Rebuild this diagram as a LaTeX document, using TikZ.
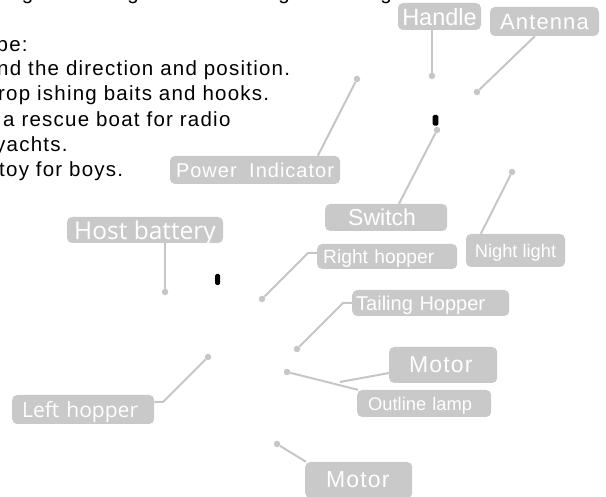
\documentclass[tikz,border=0pt]{standalone}
\usepackage{fontspec}
\setmainfont{Liberation Sans}
\newfontfamily\bodyf[LetterSpace=6]{Liberation Sans}
\newfontfamily\labf{Liberation Sans}
\newfontfamily\labsp[LetterSpace=5]{Liberation Sans}
\newfontfamily\labo{Open Sans}
\definecolor{boxgray}{RGB}{201,201,201}
\definecolor{linegray}{RGB}{198,198,198}
\tikzset{
  lbox/.style={fill=boxgray, rounded corners=5pt, text=white, inner ysep=0pt, text depth=0pt},
  cbox/.style={lbox, inner xsep=0pt, align=center},
  pbox/.style={lbox, anchor=west, align=left},
  conn/.style={draw=linegray, line width=2pt},
  dot/.style={circle, fill=linegray, inner sep=0pt, minimum size=6.5pt},
  body/.style={anchor=base west, inner sep=0pt, font=\bodyf\fontsize{20.5}{24}\selectfont},
  blackmark/.style={fill=black, rounded corners=1.5pt},
}
\begin{document}
\begin{tikzpicture}[x=1pt,y=-1pt]
\clip (0,0) rectangle (606,497);
% body text (cut at the edges)
\node[body, anchor=base] (g1) at (27.5,-0.7) {g};
\node[body, anchor=base] (g2) at (133,-0.7) {g};
\node[body, anchor=base] (g3) at (284,-0.7) {g};
\node[body, anchor=base] (g4) at (386,-0.7) {g};
\node[body] (t1) at (-3.5,51.5) {pe:};
\node[body] (t2) at (-3,76) {nd the direction and position.};
\node[body] (t3) at (-2,101) {rop ishing baits and hooks.};
\node[body] (t4) at (3,126.5) {a rescue boat for radio};
\node[body] (t5) at (-5,151.5) {yachts.};
\node[body] (t6) at (-1,176.5) {toy for boys.};
% dots and elbows
\node[dot] (hd) at (432,76) {};
\node[dot] (ad) at (477,92) {};
\node[dot] (pd) at (357,79) {};
\node[dot] (sd) at (437,130) {};
\node[dot] (nd) at (512,172) {};
\node[dot] (rd) at (262,299) {};
\node[dot] (td) at (297,349) {};
\node[dot] (od) at (287,372) {};
\node[dot] (md) at (277,444) {};
\node[dot] (hbd) at (165,292) {};
\node[dot] (ld) at (208,357) {};
\coordinate (re) at (308,253);
\coordinate (te) at (343,303);
\coordinate (me) at (340,382);
\coordinate (le) at (163,402);
% labels
\node[cbox, minimum width=83pt, minimum height=27pt, font=\labf\fontsize{23.5}{25}\selectfont] (handle) at (439.5,16.5) {Handle};
\node[cbox, minimum width=109pt, minimum height=29pt, font=\labsp\fontsize{22}{25}\selectfont] (antenna) at (544.5,21.5) {Antenna};
\node[cbox, minimum width=170pt, minimum height=28pt, font=\labsp\fontsize{20}{24}\selectfont] (power) at (255,170) {Power\hspace{6pt} Indicator};
\node[pbox, inner xsep=23pt, text width=76pt, minimum height=27pt, font=\labf\fontsize{23}{25}\selectfont] (switch) at (325,217.5) {Switch};
\node[cbox, minimum width=99pt, minimum height=33pt, font=\labf\fontsize{18.3}{22}\selectfont] (night) at (515.5,250.5) {Night light};
\node[pbox, inner xsep=6pt, text width=128pt, minimum height=25pt, font=\labf\fontsize{19.2}{22}\selectfont] (right) at (317,256.5) {Right hopper};
\node[pbox, inner xsep=4pt, text width=149pt, minimum height=26pt, font=\labf\fontsize{20}{22}\selectfont] (tail) at (352,303) {Tailing Hopper};
\node[pbox, inner xsep=20pt, text width=68pt, minimum height=36pt, font=\labsp\fontsize{23}{25}\selectfont] (motorA) at (389,365) {Motor};
\node[pbox, inner xsep=11pt, text width=112pt, minimum height=27pt, font=\labf\fontsize{18.3}{22}\selectfont] (outline) at (357,403.5) {Outline lamp};
\node[pbox, inner xsep=21pt, text width=65pt, minimum height=36pt, font=\labsp\fontsize{23}{25}\selectfont] (motorB) at (305,480) {Motor};
\node[cbox, minimum width=156pt, minimum height=26pt, font=\labo\fontsize{24.5}{26}\selectfont] (host) at (145,230) {Host battery};
\node[pbox, inner xsep=10pt, text width=122pt, minimum height=29pt, font=\labo\fontsize{21}{24}\selectfont] (left) at (12,409.5) {Left hopper};
% connectors
\draw[conn] (hd) -- (hd |- handle.south);
\draw[conn] (ad) -- ([xshift=45pt]antenna.south west);
\draw[conn] (pd) -- ([xshift=148pt]power.north west);
\draw[conn] (sd) -- ([xshift=74pt]switch.north west);
\draw[conn] (nd) -- ([xshift=15pt]night.north west);
\draw[conn] (rd) -- (re) -- (re -| right.west);
\draw[conn] (td) -- (te) -- (te -| tail.west);
\draw[conn] (me) -- ([yshift=-8pt]motorA.west);
\draw[conn] (od) -- ([xshift=1pt]outline.north west);
\draw[conn] (md) -- ([xshift=1pt]motorB.north west);
\draw[conn] (hbd) -- (hbd |- host.south);
\draw[conn] (ld) -- (le) -- (le -| left.east);
% small black marks
\fill[blackmark] (215,274) rectangle (220,285);
\fill[blackmark] (432.7,115) rectangle (438.3,125.7);
\end{tikzpicture}
\end{document}
